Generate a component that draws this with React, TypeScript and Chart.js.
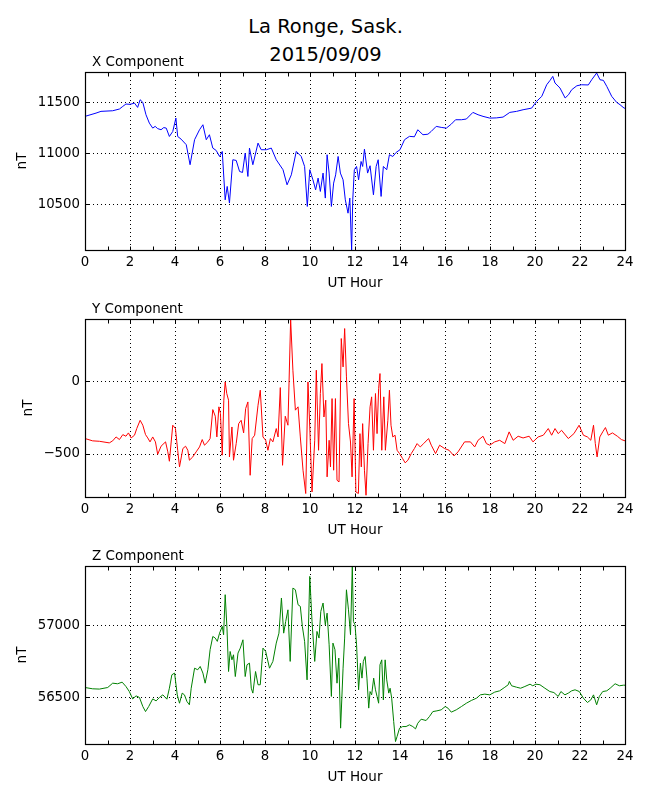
import React, { useEffect, useRef } from 'react';
import { Chart, registerables } from 'chart.js';

Chart.register(...registerables);

const FONT = "'DejaVu Sans', sans-serif";

// X component (nT), hours UT
const xHours = [0, 0.49, 0.71, 1.23, 1.53, 1.68, 1.82, 2.0, 2.2, 2.34, 2.45, 2.57, 2.71, 2.86, 3.01, 3.12, 3.23, 3.38, 3.5, 3.61, 3.75, 3.9, 4.04, 4.12, 4.27, 4.5, 4.67, 4.87, 5.09, 5.24, 5.39, 5.53, 5.68, 5.83, 5.98, 6.1, 6.23, 6.32, 6.42, 6.57, 6.72, 6.87, 7.0, 7.12, 7.24, 7.31, 7.46, 7.69, 7.83, 8.06, 8.28, 8.5, 8.8, 8.98, 9.17, 9.39, 9.61, 9.76, 9.88, 9.99, 10.13, 10.25, 10.36, 10.46, 10.58, 10.68, 10.76, 10.85, 10.95, 11.05, 11.14, 11.25, 11.35, 11.47, 11.57, 11.69, 11.77, 11.85, 11.9, 11.97, 12.07, 12.16, 12.27, 12.34, 12.42, 12.56, 12.67, 12.82, 12.94, 13.03, 13.16, 13.26, 13.41, 13.53, 13.68, 13.83, 14.0, 14.2, 14.42, 14.64, 14.79, 15.02, 15.24, 15.39, 15.61, 15.83, 16.06, 16.28, 16.47, 16.73, 16.95, 17.24, 17.47, 17.69, 17.99, 18.28, 18.58, 18.88, 19.18, 19.47, 19.85, 20.07, 20.3, 20.52, 20.67, 20.79, 20.89, 21.11, 21.34, 21.49, 21.63, 21.86, 22.07, 22.37, 22.52, 22.74, 22.89, 23.04, 23.19, 23.41, 23.63, 23.78, 23.96, 24.0];
const xValues = [11360, 11392, 11409, 11415, 11432, 11458, 11481, 11478, 11490, 11448, 11523, 11497, 11376, 11294, 11245, 11262, 11240, 11229, 11250, 11245, 11163, 11212, 11343, 11163, 11137, 11082, 10886, 11131, 11229, 11278, 11131, 11180, 11049, 11026, 10967, 11016, 10542, 10673, 10510, 10935, 10928, 10820, 10810, 11000, 10771, 11049, 10886, 11098, 11033, 11033, 11049, 10935, 10837, 10689, 10787, 11016, 10967, 10869, 10477, 10837, 10738, 10640, 10755, 10624, 10804, 10559, 10984, 10804, 10477, 10706, 10787, 10967, 10804, 10738, 10542, 10411, 10559, 10050, 10542, 10837, 10869, 10738, 10918, 10869, 11039, 10804, 10876, 10591, 10869, 10935, 10575, 10869, 10837, 10984, 10967, 11007, 11033, 11131, 11164, 11160, 11229, 11180, 11185, 11213, 11262, 11252, 11245, 11284, 11327, 11327, 11334, 11399, 11376, 11360, 11343, 11345, 11353, 11399, 11409, 11425, 11441, 11507, 11556, 11670, 11713, 11752, 11687, 11638, 11540, 11572, 11621, 11660, 11670, 11668, 11719, 11785, 11719, 11713, 11654, 11556, 11497, 11474, 11441, 11440];
const xTicks = [10500, 11000, 11500];

// Y component (nT)
const yHours = [0, 0.34, 0.64, 1.08, 1.23, 1.38, 1.53, 1.68, 1.82, 1.93, 2.05, 2.2, 2.3, 2.45, 2.57, 2.69, 2.79, 2.89, 3.01, 3.13, 3.23, 3.38, 3.58, 3.68, 3.75, 3.9, 4.02, 4.12, 4.2, 4.35, 4.47, 4.57, 4.64, 4.79, 4.94, 5.09, 5.21, 5.31, 5.46, 5.56, 5.68, 5.79, 5.86, 5.95, 6.02, 6.1, 6.17, 6.23, 6.3, 6.38, 6.42, 6.53, 6.6, 6.72, 6.83, 6.94, 7.05, 7.14, 7.24, 7.34, 7.43, 7.54, 7.69, 7.79, 7.91, 8.03, 8.13, 8.24, 8.35, 8.5, 8.58, 8.68, 8.78, 8.9, 9.02, 9.14, 9.24, 9.35, 9.47, 9.57, 9.69, 9.81, 9.91, 9.99, 10.09, 10.21, 10.28, 10.38, 10.46, 10.53, 10.62, 10.7, 10.76, 10.85, 10.91, 10.98, 11.05, 11.13, 11.2, 11.29, 11.39, 11.47, 11.54, 11.62, 11.71, 11.8, 11.87, 11.96, 12.04, 12.15, 12.22, 12.28, 12.34, 12.42, 12.49, 12.58, 12.67, 12.74, 12.82, 12.91, 12.98, 13.05, 13.11, 13.19, 13.28, 13.35, 13.46, 13.53, 13.6, 13.68, 13.78, 13.87, 13.98, 14.12, 14.23, 14.35, 14.5, 14.64, 14.76, 14.9, 15.05, 15.27, 15.39, 15.58, 15.76, 15.98, 16.18, 16.4, 16.58, 16.87, 17.13, 17.32, 17.47, 17.69, 17.84, 17.99, 18.21, 18.43, 18.66, 18.85, 19.03, 19.25, 19.47, 19.74, 19.91, 20.14, 20.37, 20.59, 20.74, 20.89, 21.03, 21.18, 21.48, 21.73, 21.96, 22.15, 22.33, 22.48, 22.6, 22.68, 22.76, 22.88, 23.01, 23.13, 23.26, 23.44, 23.66, 23.84, 24.0];
const yValues = [-396, -412, -415, -426, -412, -385, -403, -369, -380, -357, -392, -373, -327, -270, -304, -369, -392, -419, -385, -419, -505, -449, -419, -488, -553, -304, -327, -477, -592, -465, -449, -477, -546, -523, -488, -454, -403, -442, -419, -396, -196, -242, -385, -177, -223, -511, -131, -5, -85, -131, -523, -316, -546, -431, -293, -270, -357, -189, -143, -650, -396, -373, -166, -62, -385, -408, -477, -396, -419, -327, -385, -44, -581, -242, -304, 425, 76, -200, -177, -385, -615, -776, -5, -316, -765, -408, 76, -477, -85, 122, -247, -131, -661, -408, -592, -120, -615, -120, -684, -696, 295, 99, 364, 30, -293, -420, -661, -120, -765, -776, -362, -592, -293, -615, -788, -431, -177, -108, -477, -85, -362, -51, 53, -477, -108, -477, -270, -62, -304, -385, -373, -477, -500, -535, -564, -546, -500, -465, -431, -454, -431, -396, -442, -500, -442, -465, -477, -516, -488, -419, -419, -454, -408, -380, -431, -442, -419, -408, -431, -350, -408, -380, -392, -380, -419, -385, -373, -327, -373, -327, -362, -339, -396, -362, -304, -373, -385, -408, -304, -431, -523, -385, -350, -320, -373, -357, -380, -403, -412];
const yTicks = [-500, 0];

// Z component (nT)
const zHours = [0, 0.34, 0.64, 1.01, 1.23, 1.45, 1.65, 1.82, 1.97, 2.12, 2.27, 2.42, 2.57, 2.69, 2.83, 3.01, 3.16, 3.31, 3.46, 3.64, 3.75, 3.86, 3.98, 4.1, 4.2, 4.32, 4.42, 4.53, 4.64, 4.72, 4.87, 5.01, 5.12, 5.24, 5.34, 5.46, 5.56, 5.68, 5.79, 5.88, 5.98, 6.1, 6.16, 6.23, 6.31, 6.38, 6.45, 6.53, 6.6, 6.68, 6.8, 6.9, 7.02, 7.12, 7.2, 7.31, 7.39, 7.46, 7.58, 7.69, 7.79, 7.91, 8.03, 8.2, 8.35, 8.5, 8.62, 8.73, 8.83, 8.92, 9.02, 9.12, 9.24, 9.35, 9.47, 9.57, 9.66, 9.76, 9.87, 9.99, 10.09, 10.21, 10.31, 10.4, 10.48, 10.58, 10.68, 10.76, 10.85, 10.95, 11.02, 11.11, 11.2, 11.28, 11.36, 11.47, 11.54, 11.62, 11.71, 11.8, 11.88, 11.93, 12.0, 12.07, 12.16, 12.24, 12.31, 12.37, 12.45, 12.53, 12.61, 12.67, 12.74, 12.83, 12.91, 12.98, 13.05, 13.11, 13.19, 13.26, 13.34, 13.41, 13.5, 13.56, 13.63, 13.72, 13.8, 13.87, 13.98, 14.12, 14.27, 14.42, 14.57, 14.69, 14.79, 14.94, 15.16, 15.31, 15.46, 15.64, 15.83, 16.01, 16.13, 16.28, 16.5, 16.73, 16.95, 17.17, 17.4, 17.57, 17.77, 17.99, 18.21, 18.43, 18.66, 18.81, 18.86, 18.96, 19.18, 19.36, 19.55, 19.78, 19.9, 20.04, 20.22, 20.44, 20.66, 20.84, 21.03, 21.15, 21.33, 21.48, 21.63, 21.78, 21.97, 22.15, 22.33, 22.48, 22.6, 22.74, 22.86, 23.01, 23.19, 23.34, 23.56, 23.75, 23.93, 24.0];
const zValues = [56567, 56558, 56556, 56567, 56597, 56593, 56604, 56574, 56539, 56488, 56509, 56498, 56435, 56400, 56435, 56488, 56474, 56498, 56516, 56486, 56562, 56655, 56667, 56516, 56458, 56528, 56516, 56470, 56447, 56562, 56701, 56690, 56713, 56667, 56597, 56690, 56829, 56921, 56910, 56887, 56944, 56991, 56933, 57211, 56979, 56678, 56817, 56759, 56794, 56643, 56806, 56840, 56898, 56643, 56725, 56736, 56562, 56528, 56678, 56586, 56586, 56840, 56817, 56701, 56748, 56875, 56944, 57188, 56944, 57025, 57106, 56748, 57257, 57245, 57141, 57130, 56991, 56887, 56620, 57338, 57025, 56748, 56956, 56910, 57095, 57153, 57002, 57083, 56863, 56505, 56875, 56829, 56597, 56771, 56285, 56701, 56910, 57245, 57106, 56933, 57410, 57025, 57002, 56863, 56551, 56736, 56632, 56748, 56782, 56632, 56424, 56539, 56516, 56632, 56551, 56505, 56458, 56725, 56759, 56481, 56759, 56620, 56528, 56562, 56493, 56331, 56192, 56227, 56285, 56296, 56296, 56308, 56296, 56280, 56319, 56347, 56338, 56366, 56400, 56405, 56412, 56435, 56424, 56396, 56412, 56435, 56458, 56477, 56493, 56516, 56521, 56516, 56535, 56544, 56569, 56586, 56609, 56579, 56569, 56562, 56574, 56590, 56579, 56590, 56586, 56562, 56539, 56532, 56505, 56539, 56516, 56528, 56544, 56551, 56539, 56493, 56463, 56481, 56516, 56447, 56505, 56539, 56544, 56562, 56593, 56579, 56583, 56583];
const zTicks = [56500, 57000];

const makeFramePlugin = (title: string) => ({
  id: 'frame',
  beforeDatasetsDraw(chart: any) {
    const { ctx, chartArea: a, scales } = chart;
    ctx.save();
    ctx.strokeStyle = '#000';
    ctx.lineWidth = 1;
    ctx.setLineDash([1, 3]);
    scales.x.ticks.forEach((t: any) => {
      const px = Math.round(scales.x.getPixelForValue(t.value)) + 0.5;
      ctx.beginPath();
      ctx.moveTo(px, a.top);
      ctx.lineTo(px, a.bottom);
      ctx.stroke();
    });
    scales.y.ticks.forEach((t: any) => {
      const py = Math.round(scales.y.getPixelForValue(t.value)) + 0.5;
      ctx.beginPath();
      ctx.moveTo(a.left, py);
      ctx.lineTo(a.right, py);
      ctx.stroke();
    });
    ctx.restore();
  },
  afterDatasetsDraw(chart: any) {
    const { ctx, chartArea: a, scales } = chart;
    const l = Math.round(a.left) + 0.5;
    const r = Math.round(a.right) + 0.5;
    const t = Math.round(a.top) + 0.5;
    const b = Math.round(a.bottom) + 0.5;
    ctx.save();
    ctx.strokeStyle = '#000';
    ctx.lineWidth = 1.2;
    ctx.strokeRect(l, t, r - l, b - t);

    // inward ticks: every hour on x, major only on y
    ctx.lineWidth = 1;
    const xt = scales.x.ticks.map((k: any) => k.value);
    const marks: number[] = [];
    xt.forEach((v: number, i: number) => {
      marks.push(v);
      if (i < xt.length - 1) marks.push((v + xt[i + 1]) / 2);
    });
    marks.forEach((v) => {
      const px = Math.round(scales.x.getPixelForValue(v)) + 0.5;
      ctx.beginPath();
      ctx.moveTo(px, b);
      ctx.lineTo(px, b - 4);
      ctx.moveTo(px, t);
      ctx.lineTo(px, t + 4);
      ctx.stroke();
    });
    scales.y.ticks.forEach((k: any) => {
      const py = Math.round(scales.y.getPixelForValue(k.value)) + 0.5;
      ctx.beginPath();
      ctx.moveTo(l, py);
      ctx.lineTo(l + 4, py);
      ctx.moveTo(r, py);
      ctx.lineTo(r - 4, py);
      ctx.stroke();
    });

    // panel title
    ctx.fillStyle = '#000';
    ctx.font = `13.5px ${FONT}`;
    ctx.textAlign = 'left';
    ctx.textBaseline = 'alphabetic';
    ctx.fillText(title, a.left + 7, a.top - 6);

    // y unit label, placed left of the widest tick label
    ctx.font = `13.3px ${FONT}`;
    const widest = Math.max(...scales.y.ticks.map((k: any) => ctx.measureText(String(k.label)).width));
    const cx = a.left - 5 - widest - 15;
    const cy = (a.top + a.bottom) / 2;
    ctx.translate(cx, cy);
    ctx.rotate(-Math.PI / 2);
    ctx.font = `13.5px ${FONT}`;
    ctx.textAlign = 'center';
    ctx.textBaseline = 'middle';
    ctx.fillText('nT', 0, 0);
    ctx.restore();
  },
});

interface PanelProps {
  title: string;
  hours: number[];
  values: number[];
  ticks: number[];
  color: string;
  min: number;
  max: number;
  top: number;
}

const Panel: React.FC<PanelProps> = ({ title, hours, values, ticks, color, min, max, top }) => {
  const canvasRef = useRef<HTMLCanvasElement>(null);

  useEffect(() => {
    if (!canvasRef.current) return;
    const chart = new Chart(canvasRef.current, {
      type: 'line',
      data: {
        datasets: [
          {
            data: hours.map((h, i) => ({ x: h, y: values[i] })),
            borderColor: color,
            borderWidth: 1,
            pointRadius: 0,
            tension: 0,
            fill: false,
          },
        ],
      },
      options: {
        responsive: false,
        maintainAspectRatio: false,
        animation: false,
        layout: { padding: { top: 30, right: 25, left: 0, bottom: 0 } },
        plugins: { legend: { display: false }, tooltip: { enabled: false } },
        scales: {
          x: {
            type: 'linear',
            min: 0,
            max: 24,
            grid: { display: false, drawTicks: false },
            border: { display: false },
            ticks: { stepSize: 2, padding: 5, color: '#000', font: { family: FONT, size: 13.3 } },
            title: { display: true, text: 'UT Hour', color: '#000', padding: 0, font: { family: FONT, size: 13.5 } },
            afterFit: (s: any) => {
              s.height = 42;
            },
          },
          y: {
            min,
            max,
            grid: { display: false, drawTicks: false },
            border: { display: false },
            afterBuildTicks: (s: any) => {
              s.ticks = ticks.map((v) => ({ value: v }));
            },
            ticks: {
              padding: 5,
              color: '#000',
              font: { family: FONT, size: 13.3 },
              callback: (v: any) => String(v).replace('-', '\u2212'),
            },
            afterFit: (s: any) => {
              s.width = 85;
            },
          },
        },
      },
      plugins: [makeFramePlugin(title)],
    });
    return () => chart.destroy();
  }, [title, hours, values, ticks, color, min, max]);

  return (
    <div style={{ position: 'absolute', left: 0, top: top - 30, width: 650, height: 250 }}>
      <canvas ref={canvasRef} width={650} height={250} />
    </div>
  );
};

export default function App() {
  return (
    <div style={{ position: 'absolute', left: 0, top: 0, width: 650, height: 800, background: '#fff' }}>
      <div
        style={{
          position: 'absolute',
          left: 0,
          top: 12.5,
          width: 651,
          textAlign: 'center',
          fontFamily: FONT,
          fontSize: 19.5,
          lineHeight: '28px',
          color: '#000',
        }}
      >
        La Ronge, Sask.
        <br />
        2015/09/09
      </div>
      <Panel title="X Component" hours={xHours} values={xValues} ticks={xTicks} color="#0000ff" min={10050} max={11795} top={72} />
      <Panel title="Y Component" hours={yHours} values={yValues} ticks={yTicks} color="#ff0000" min={-800} max={430} top={319} />
      <Panel title="Z Component" hours={zHours} values={zValues} ticks={zTicks} color="#008000" min={56175} max={57410} top={566} />
    </div>
  );
}
